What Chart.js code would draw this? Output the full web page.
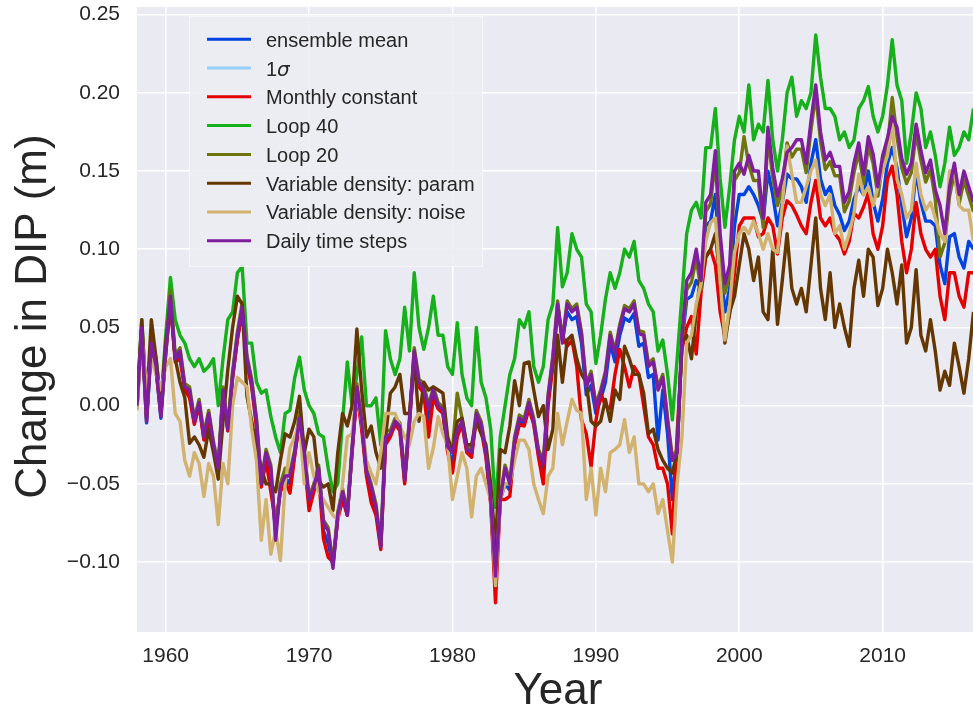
<!DOCTYPE html>
<html>
<head>
<meta charset="utf-8">
<title>Change in DIP</title>
<script src="https://cdn.jsdelivr.net/npm/chart.js@4.4.1/dist/chart.umd.min.js"></script>
<style>
  html, body { margin: 0; padding: 0; background: #ffffff; }
  #wrap { width: 973px; height: 717px; }
</style>
</head>
<body>
<div id="wrap"><canvas id="dipChart" width="973" height="717"></canvas></div>
<script>
// Three samples per year (Jan, May, Sep), starting January 1958
const START_YEAR = 1958;
const SAMPLES_PER_YEAR = 3;

const xTicks = [1960, 1970, 1980, 1990, 2000, 2010];
const yTicks = [-0.10, -0.05, 0.00, 0.05, 0.10, 0.15, 0.20, 0.25];

const legendLabels = ['ensemble mean', '1\u03c3', 'Monthly constant', 'Loop 40', 'Loop 20',
  'Variable density: param', 'Variable density: noise', 'Daily time steps'];
const legendColors = ['#0343df', '#95d0fc', '#e50000', '#15b01a', '#6e750e', '#653700', '#d1b26f', '#7e1e9c'];

// Change in DIP (m)
const ensembleMean = [
  -0.002, 0.048, -0.011, 0.038, 0.023, -0.008, 0.033, 0.067, 0.030, 0.033, 0.012, 0.008, -0.011, 0.001, -0.021,
  -0.006, -0.026, -0.041, 0.008, -0.016, 0.018, 0.043, 0.061, 0.028, 0.013, -0.012, -0.051, -0.032, -0.045, -0.080,
  -0.053, -0.046, -0.050, -0.031, -0.009, -0.032, -0.063, -0.053, -0.042, -0.080, -0.088, -0.102, -0.071, -0.057, -0.070,
  -0.029, 0.010, -0.012, -0.043, -0.057, -0.067, -0.090, -0.022, -0.019, -0.011, -0.014, -0.048, -0.011, 0.034, 0.014,
  0.009, -0.010, 0.008, -0.001, -0.004, -0.028, -0.036, -0.018, -0.011, -0.029, -0.031, -0.006, -0.013, -0.031, -0.061,
  -0.115, -0.060, -0.050, -0.054, -0.023, -0.010, -0.011, 0.000, -0.011, -0.031, -0.043, 0.003, 0.028, 0.064, 0.042,
  0.060, 0.055, 0.057, 0.040, 0.007, 0.013, -0.005, 0.004, 0.015, 0.040, 0.028, 0.045, 0.056, 0.054, 0.059,
  0.038, 0.040, 0.018, 0.020, -0.022, 0.010, -0.018, -0.060, -0.028, 0.040, 0.068, 0.070, 0.080, 0.075, 0.115,
  0.118, 0.135, 0.090, 0.060, 0.075, 0.115, 0.135, 0.135, 0.140, 0.135, 0.128, 0.118, 0.150, 0.135, 0.115,
  0.130, 0.148, 0.145, 0.145, 0.140, 0.130, 0.155, 0.170, 0.145, 0.135, 0.140, 0.128, 0.122, 0.112, 0.118,
  0.132, 0.140, 0.135, 0.150, 0.130, 0.118, 0.132, 0.155, 0.165, 0.152, 0.128, 0.108, 0.120, 0.150, 0.130,
  0.118, 0.118, 0.115, 0.090, 0.078, 0.108, 0.110, 0.095, 0.088, 0.105, 0.100
];

const monthlyConstant = [
  0.000, 0.048, -0.008, 0.040, 0.022, -0.005, 0.033, 0.066, 0.028, 0.030, 0.010, 0.005, -0.012, 0.000, -0.022,
  -0.008, -0.027, -0.042, 0.008, -0.016, 0.018, 0.042, 0.060, 0.028, 0.012, -0.014, -0.052, -0.035, -0.055, -0.075,
  -0.055, -0.048, -0.056, -0.032, -0.010, -0.035, -0.067, -0.055, -0.045, -0.085, -0.097, -0.100, -0.073, -0.060, -0.070,
  -0.030, 0.008, -0.015, -0.045, -0.062, -0.070, -0.092, -0.025, -0.020, -0.012, -0.016, -0.050, -0.012, 0.032, 0.012,
  0.008, -0.020, 0.005, -0.002, -0.005, -0.030, -0.043, -0.020, -0.012, -0.030, -0.033, -0.008, -0.015, -0.033, -0.063,
  -0.126, -0.060, -0.060, -0.058, -0.025, -0.012, -0.013, -0.002, -0.012, -0.033, -0.050, 0.000, 0.025, 0.062, 0.045,
  0.038, 0.042, 0.025, -0.009, -0.018, -0.039, -0.010, 0.008, 0.000, -0.002, 0.020, 0.036, 0.025, 0.012, 0.025,
  0.020, 0.000, -0.020, -0.025, -0.040, -0.040, -0.050, -0.082, -0.018, 0.036, 0.050, 0.057, 0.033, 0.072, 0.095,
  0.100, 0.090, 0.060, 0.044, 0.059, 0.085, 0.115, 0.120, 0.120, 0.120, 0.108, 0.110, 0.120, 0.115, 0.097,
  0.120, 0.131, 0.128, 0.122, 0.115, 0.110, 0.130, 0.144, 0.120, 0.115, 0.120, 0.110, 0.106, 0.097, 0.105,
  0.123, 0.120, 0.127, 0.136, 0.110, 0.100, 0.115, 0.145, 0.153, 0.135, 0.105, 0.085, 0.100, 0.130, 0.110,
  0.100, 0.095, 0.100, 0.070, 0.055, 0.085, 0.085, 0.070, 0.063, 0.085, 0.085
];

const loop40 = [
  0.002, 0.055, 0.000, 0.045, 0.030, 0.000, 0.045, 0.082, 0.055, 0.045, 0.040, 0.030, 0.025, 0.030, 0.022,
  0.025, 0.030, 0.000, 0.030, 0.055, 0.060, 0.085, 0.089, 0.040, 0.040, 0.015, 0.008, 0.010, -0.007, -0.020,
  -0.030, -0.005, -0.003, 0.018, 0.031, 0.010, 0.000, -0.005, -0.018, -0.020, -0.040, -0.055, -0.050, -0.010, 0.028,
  0.000, 0.020, 0.044, 0.000, 0.000, 0.005, -0.025, 0.048, 0.030, 0.020, 0.030, 0.063, 0.035, 0.085, 0.050,
  0.036, 0.050, 0.070, 0.045, 0.045, 0.025, 0.020, 0.053, 0.020, 0.005, 0.000, 0.050, 0.015, 0.005, -0.015,
  -0.065, -0.020, 0.000, 0.020, 0.030, 0.055, 0.050, 0.060, 0.025, 0.015, 0.025, 0.055, 0.065, 0.114, 0.076,
  0.085, 0.110, 0.100, 0.095, 0.065, 0.060, 0.027, 0.045, 0.068, 0.085, 0.075, 0.085, 0.100, 0.095, 0.105,
  0.080, 0.075, 0.065, 0.060, 0.035, 0.042, 0.020, -0.009, 0.030, 0.070, 0.110, 0.125, 0.130, 0.120, 0.165,
  0.165, 0.190, 0.145, 0.114, 0.140, 0.170, 0.185, 0.175, 0.205, 0.170, 0.180, 0.175, 0.208, 0.170, 0.150,
  0.170, 0.200, 0.210, 0.185, 0.195, 0.190, 0.200, 0.237, 0.210, 0.190, 0.190, 0.185, 0.170, 0.175, 0.165,
  0.170, 0.190, 0.195, 0.204, 0.185, 0.175, 0.185, 0.205, 0.234, 0.205, 0.195, 0.155, 0.175, 0.200, 0.190,
  0.165, 0.175, 0.160, 0.140, 0.155, 0.178, 0.160, 0.165, 0.175, 0.170, 0.190
];

const loop20 = [
  0.002, 0.052, -0.008, 0.042, 0.027, -0.005, 0.037, 0.074, 0.032, 0.037, 0.014, 0.012, -0.008, 0.004, -0.018,
  -0.003, -0.023, -0.038, 0.012, -0.013, 0.022, 0.047, 0.066, 0.032, 0.017, -0.008, -0.048, -0.028, -0.038, -0.082,
  -0.050, -0.040, -0.043, -0.028, -0.004, -0.028, -0.058, -0.050, -0.038, -0.073, -0.078, -0.101, -0.068, -0.053, -0.068,
  -0.026, 0.014, -0.008, -0.040, -0.050, -0.063, -0.088, -0.016, -0.016, -0.008, -0.011, -0.045, -0.008, 0.037, 0.017,
  0.014, 0.000, 0.012, 0.002, -0.001, -0.024, -0.028, 0.008, -0.008, -0.026, -0.028, -0.003, -0.010, -0.028, -0.058,
  -0.106, -0.058, -0.038, -0.048, -0.020, -0.006, -0.008, 0.004, -0.008, -0.028, -0.035, 0.007, 0.032, 0.067, 0.042,
  0.067, 0.062, 0.065, 0.047, 0.014, 0.022, 0.001, 0.010, 0.022, 0.047, 0.035, 0.052, 0.064, 0.062, 0.067,
  0.048, 0.047, 0.027, 0.030, 0.012, 0.020, -0.008, -0.033, -0.028, 0.040, 0.074, 0.079, 0.094, 0.074, 0.124,
  0.129, 0.157, 0.104, 0.072, 0.084, 0.144, 0.149, 0.172, 0.154, 0.144, 0.144, 0.114, 0.172, 0.146, 0.128,
  0.139, 0.168, 0.159, 0.164, 0.164, 0.149, 0.176, 0.199, 0.169, 0.151, 0.156, 0.147, 0.147, 0.124, 0.131,
  0.149, 0.162, 0.142, 0.166, 0.155, 0.134, 0.154, 0.165, 0.197, 0.172, 0.152, 0.142, 0.149, 0.174, 0.157,
  0.143, 0.151, 0.132, 0.095, 0.104, 0.134, 0.149, 0.129, 0.144, 0.134, 0.124
];

const densityParam = [
  0.000, 0.055, 0.000, 0.055, 0.030, 0.000, 0.040, 0.065, 0.030, 0.015, 0.005, -0.024, -0.020, -0.025, -0.033,
  -0.015, -0.030, -0.047, -0.010, 0.023, 0.050, 0.070, 0.065, 0.006, -0.010, -0.026, -0.040, -0.050, -0.050, -0.055,
  -0.035, -0.018, -0.020, -0.010, 0.006, -0.030, -0.015, -0.020, -0.048, -0.052, -0.050, -0.067, -0.030, -0.005, -0.013,
  0.000, 0.049, 0.010, -0.020, -0.013, -0.030, -0.040, -0.020, 0.008, 0.012, 0.020, -0.005, -0.005, 0.030, -0.010,
  0.015, 0.010, 0.012, 0.010, 0.008, -0.020, -0.030, -0.010, -0.008, -0.025, -0.025, -0.010, -0.018, -0.025, -0.050,
  -0.090, -0.028, -0.030, -0.013, 0.016, 0.000, 0.027, 0.028, 0.010, -0.007, 0.000, -0.028, -0.015, 0.045, 0.015,
  0.042, 0.045, 0.030, 0.020, 0.015, -0.010, -0.013, -0.010, 0.004, -0.010, 0.010, 0.004, 0.038, 0.030, 0.020,
  0.020, 0.008, -0.018, -0.015, -0.028, -0.035, -0.040, -0.043, -0.030, 0.040, 0.045, 0.030, 0.060, 0.085, 0.095,
  0.100, 0.110, 0.080, 0.040, 0.060, 0.070, 0.090, 0.110, 0.100, 0.080, 0.095, 0.060, 0.055, 0.100, 0.052,
  0.080, 0.110, 0.075, 0.065, 0.075, 0.060, 0.090, 0.120, 0.075, 0.055, 0.085, 0.050, 0.065, 0.050, 0.038,
  0.075, 0.093, 0.070, 0.100, 0.095, 0.064, 0.075, 0.100, 0.085, 0.065, 0.090, 0.040, 0.050, 0.087, 0.045,
  0.035, 0.055, 0.035, 0.010, 0.022, 0.013, 0.040, 0.025, 0.008, 0.030, 0.060
];

const densityNoise = [
  -0.003, 0.045, 0.010, 0.030, 0.020, 0.010, 0.025, 0.030, -0.005, -0.010, -0.035, -0.045, -0.030, -0.037, -0.058,
  -0.037, -0.045, -0.076, -0.037, -0.050, 0.000, 0.018, 0.015, 0.012, -0.015, -0.035, -0.086, -0.060, -0.095, -0.080,
  -0.099, -0.050, -0.027, -0.020, -0.010, -0.050, -0.030, -0.045, -0.055, -0.060, -0.065, -0.070, -0.073, -0.050, -0.020,
  -0.018, 0.008, -0.010, -0.035, -0.043, -0.050, -0.030, -0.005, -0.005, -0.005, -0.013, -0.020, -0.025, -0.010, -0.005,
  -0.007, -0.040, -0.027, -0.007, -0.018, -0.025, -0.060, -0.045, -0.030, -0.040, -0.071, -0.045, -0.040, -0.050, -0.060,
  -0.115, -0.060, -0.050, -0.050, -0.035, -0.022, -0.022, -0.028, -0.050, -0.060, -0.069, -0.045, -0.040, -0.005, -0.025,
  -0.010, 0.004, -0.003, -0.005, -0.060, -0.040, -0.070, -0.040, -0.055, -0.030, -0.028, -0.025, -0.009, -0.030, -0.020,
  -0.050, -0.050, -0.055, -0.050, -0.069, -0.060, -0.080, -0.100, -0.050, -0.020, 0.040, 0.045, 0.065, 0.078, 0.105,
  0.117, 0.120, 0.080, 0.042, 0.065, 0.098, 0.110, 0.114, 0.110, 0.118, 0.110, 0.100, 0.110, 0.100, 0.098,
  0.128, 0.166, 0.148, 0.130, 0.130, 0.140, 0.150, 0.157, 0.135, 0.128, 0.135, 0.110, 0.115, 0.100, 0.110,
  0.123, 0.148, 0.135, 0.140, 0.128, 0.140, 0.150, 0.160, 0.180, 0.145, 0.135, 0.120, 0.125, 0.155, 0.135,
  0.125, 0.130, 0.120, 0.110, 0.105, 0.150, 0.150, 0.128, 0.125, 0.125, 0.105
];

const dailySteps = [
  0.000, 0.050, -0.010, 0.040, 0.025, -0.007, 0.035, 0.070, 0.030, 0.035, 0.012, 0.010, -0.010, 0.002, -0.020,
  -0.005, -0.025, -0.040, 0.010, -0.015, 0.020, 0.045, 0.063, 0.030, 0.015, -0.010, -0.050, -0.030, -0.040, -0.086,
  -0.052, -0.045, -0.045, -0.030, -0.008, -0.030, -0.060, -0.052, -0.040, -0.075, -0.080, -0.104, -0.070, -0.055, -0.070,
  -0.028, 0.012, -0.010, -0.042, -0.052, -0.065, -0.090, -0.020, -0.018, -0.010, -0.013, -0.047, -0.010, 0.035, 0.015,
  0.010, -0.002, 0.010, 0.000, -0.003, -0.026, -0.030, -0.016, -0.010, -0.028, -0.030, -0.005, -0.012, -0.030, -0.060,
  -0.109, -0.060, -0.040, -0.050, -0.022, -0.008, -0.010, 0.002, -0.010, -0.030, -0.037, 0.005, 0.030, 0.065, 0.040,
  0.065, 0.060, 0.063, 0.045, 0.012, 0.020, -0.001, 0.008, 0.020, 0.045, 0.033, 0.050, 0.062, 0.060, 0.065,
  0.046, 0.045, 0.025, 0.028, 0.010, 0.018, -0.010, -0.035, -0.030, 0.045, 0.080, 0.085, 0.100, 0.080, 0.130,
  0.135, 0.163, 0.110, 0.078, 0.090, 0.150, 0.155, 0.148, 0.160, 0.150, 0.150, 0.120, 0.178, 0.152, 0.134,
  0.145, 0.162, 0.165, 0.170, 0.170, 0.155, 0.182, 0.205, 0.175, 0.157, 0.162, 0.153, 0.153, 0.130, 0.137,
  0.155, 0.168, 0.148, 0.172, 0.161, 0.140, 0.160, 0.171, 0.185, 0.178, 0.158, 0.148, 0.155, 0.180, 0.163,
  0.149, 0.157, 0.138, 0.128, 0.110, 0.140, 0.155, 0.135, 0.150, 0.140, 0.130
];

const FONT = "'Liberation Sans', Arial, Helvetica, sans-serif";
const TEXT_COLOR = '#262626';

const years = dailySteps.map((_, i) => START_YEAR + i / SAMPLES_PER_YEAR);
const toPoints = values => values.map((v, i) => ({ x: years[i], y: v }));

// drawn bottom to top: ensemble mean first, daily time steps last
const series = [
  { label: legendLabels[0], color: legendColors[0], values: ensembleMean },
  { label: legendLabels[2], color: legendColors[2], values: monthlyConstant },
  { label: legendLabels[3], color: legendColors[3], values: loop40 },
  { label: legendLabels[4], color: legendColors[4], values: loop20 },
  { label: legendLabels[5], color: legendColors[5], values: densityParam },
  { label: legendLabels[6], color: legendColors[6], values: densityNoise },
  { label: legendLabels[7], color: legendColors[7], values: dailySteps }
];

const datasets = series.map((s, i) => ({
  label: s.label,
  data: toPoints(s.values),
  borderColor: s.color,
  backgroundColor: s.color,
  borderWidth: 3.4,
  pointRadius: 0,
  fill: false,
  tension: 0,
  borderJoinStyle: 'round',
  order: series.length - i
}));

const plotBackground = {
  id: 'plotBackground',
  beforeDraw(chart) {
    const { ctx, chartArea: a } = chart;
    ctx.save();
    ctx.fillStyle = '#ffffff';
    ctx.fillRect(0, 0, chart.width, chart.height);
    ctx.fillStyle = '#eaeaf2';
    ctx.fillRect(a.left, a.top, a.right - a.left, a.bottom - a.top);
    ctx.restore();
  }
};

const legendBox = {
  id: 'legendBox',
  afterDatasetsDraw(chart) {
    const ctx = chart.ctx;
    ctx.save();
    ctx.fillStyle = 'rgba(236, 236, 243, 0.88)';
    ctx.fillRect(189, 16, 294, 251);
    ctx.strokeStyle = 'rgba(255, 255, 255, 0.55)';
    ctx.lineWidth = 1;
    ctx.strokeRect(189.5, 16.5, 293, 250);

    ctx.lineWidth = 3;
    ctx.lineCap = 'butt';
    ctx.textAlign = 'left';
    ctx.textBaseline = 'alphabetic';
    ctx.fillStyle = TEXT_COLOR;
    legendLabels.forEach((label, i) => {
      const y = 39.3 + i * 28.77;
      ctx.strokeStyle = legendColors[i];
      ctx.beginPath();
      ctx.moveTo(207, y);
      ctx.lineTo(251, y);
      ctx.stroke();
      if (label === '1\u03c3') {
        ctx.font = '20px ' + FONT;
        ctx.fillText('1', 266, y + 7.5);
        const w = ctx.measureText('1').width;
        ctx.font = "italic 20px 'DejaVu Sans', " + FONT;
        ctx.fillText('\u03c3', 266 + w, y + 7.5);
      } else {
        ctx.font = '20px ' + FONT;
        ctx.fillText(label, 266, y + 7.5);
      }
    });
    ctx.restore();
  }
};

const axisTitles = {
  id: 'axisTitles',
  afterDraw(chart) {
    const { ctx, chartArea: a } = chart;
    ctx.save();
    ctx.fillStyle = TEXT_COLOR;
    ctx.font = '44px ' + FONT;
    ctx.textAlign = 'center';
    ctx.textBaseline = 'alphabetic';
    ctx.fillText('Year', (a.left + a.right) / 2 + 3, 704);
    ctx.translate(46, (a.top + a.bottom) / 2 - 3);
    ctx.rotate(-Math.PI / 2);
    ctx.fillText('Change in DIP (m)', 0, 0);
    ctx.restore();
  }
};

new Chart(document.getElementById('dipChart'), {
  type: 'line',
  data: { datasets },
  plugins: [plotBackground, legendBox, axisTitles],
  options: {
    responsive: false,
    animation: false,
    devicePixelRatio: 1,
    layout: { padding: { top: 7, right: 0, bottom: 0, left: 0 } },
    plugins: {
      legend: { display: false },
      tooltip: { enabled: false }
    },
    scales: {
      x: {
        type: 'linear',
        min: 1958,
        max: 2016.3,
        border: { display: false },
        grid: { color: '#ffffff', lineWidth: 1.6, drawTicks: false },
        ticks: {
          padding: 12,
          color: TEXT_COLOR,
          font: { family: FONT, size: 21 },
          maxRotation: 0,
          callback: v => String(v)
        },
        afterBuildTicks: scale => { scale.ticks = xTicks.map(v => ({ value: v })); },
        afterFit: scale => {
          scale.height = 85;
          scale.paddingLeft = 0;
          scale.paddingRight = 0;
        }
      },
      y: {
        type: 'linear',
        min: -0.1447,
        max: 0.2549,
        border: { display: false },
        grid: { color: '#ffffff', lineWidth: 1.6, drawTicks: false },
        ticks: {
          padding: 17,
          color: TEXT_COLOR,
          font: { family: FONT, size: 21 },
          callback: v => v.toFixed(2).replace('-', '\u2212')
        },
        afterBuildTicks: scale => { scale.ticks = yTicks.map(v => ({ value: v })); },
        afterFit: scale => {
          scale.width = 137;
          scale.paddingTop = 0;
          scale.paddingBottom = 0;
        }
      }
    }
  }
});
</script>
</body>
</html>
